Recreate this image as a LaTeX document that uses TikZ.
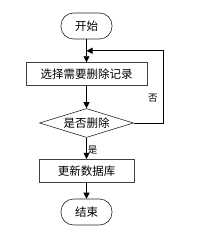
\documentclass[tikz,border=0pt]{standalone}
\usepackage{fontspec}
\newfontfamily\cjk{Noto Sans CJK SC}
\usetikzlibrary{shapes.geometric, arrows.meta, positioning, calc}

\begin{document}
\begin{tikzpicture}[
    x=1pt, y=-1pt,
    node distance=22pt,
    every node/.style={font=\cjk\fontsize{11.5}{13}\selectfont},
    startstop/.style={rectangle, rounded corners=12.5pt, minimum width=51pt, minimum height=26pt, text centered, draw=black!85, line width=0.6pt, inner sep=2pt},
    process/.style={rectangle, minimum height=23pt, text centered, draw=black!75, line width=0.9pt, inner sep=2pt},
    decision/.style={diamond, aspect=3.2, minimum width=94pt, minimum height=29pt, text centered, draw=black!85, line width=0.6pt, inner sep=0pt},
    arrow/.style={-{Triangle[length=6pt, width=6pt]}, line width=0.6pt},
    lbl/.style={font=\cjk\fontsize{9.5}{10}\selectfont, inner sep=1pt}
]
\useasboundingbox (0,0) rectangle (218,232);

\node (start) [startstop] at (86.5,26) {开始};
\node (sel) [process, minimum width=121pt, below=23pt of start] {选择需要删除记录};
\node (dec) [decision, below=of sel] {是否删除};
\node (upd) [process, minimum width=95pt, below=21pt of dec] {更新数据库};
\node (end) [startstop, below=16pt of upd] {结束};
\coordinate (join) at ($(start.south)!0.5!(sel.north)$);

\draw [arrow] (start) -- (sel);
\draw [arrow] (sel) -- (dec);
\draw [arrow] (dec) -- node[lbl, anchor=west, pos=0.6] {是} (upd);
\draw [arrow] (upd) -- (end);
\draw [arrow] (dec.east) -- ++(29,0) |- node[lbl, anchor=east, pos=0.17, xshift=-4pt] {否} (join);
\end{tikzpicture}
\end{document}
